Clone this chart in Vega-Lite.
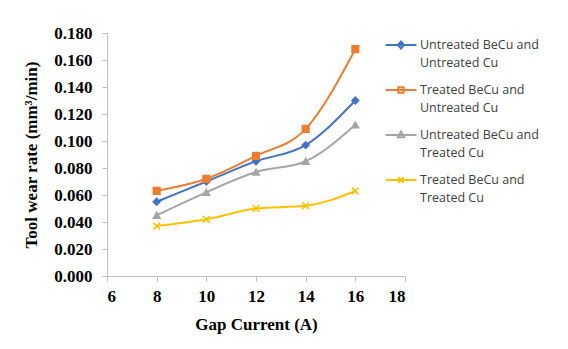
{
  "$schema": "https://vega.github.io/schema/vega-lite/v6.json",
  "width": 298,
  "height": 243,
  "autosize": {"type": "none"},
  "padding": {"left": 107, "top": 33, "right": 163, "bottom": 73},
  "background": "white",
  "data": {"values": [
    {"x": 8, "y": 0.055, "s": "Untreated BeCu and|Untreated Cu"},
    {"x": 10, "y": 0.070, "s": "Untreated BeCu and|Untreated Cu"},
    {"x": 12, "y": 0.085, "s": "Untreated BeCu and|Untreated Cu"},
    {"x": 14, "y": 0.097, "s": "Untreated BeCu and|Untreated Cu"},
    {"x": 16, "y": 0.130, "s": "Untreated BeCu and|Untreated Cu"},
    {"x": 8, "y": 0.063, "s": "Treated BeCu and|Untreated Cu"},
    {"x": 10, "y": 0.072, "s": "Treated BeCu and|Untreated Cu"},
    {"x": 12, "y": 0.089, "s": "Treated BeCu and|Untreated Cu"},
    {"x": 14, "y": 0.109, "s": "Treated BeCu and|Untreated Cu"},
    {"x": 16, "y": 0.168, "s": "Treated BeCu and|Untreated Cu"},
    {"x": 8, "y": 0.045, "s": "Untreated BeCu and|Treated Cu"},
    {"x": 10, "y": 0.062, "s": "Untreated BeCu and|Treated Cu"},
    {"x": 12, "y": 0.077, "s": "Untreated BeCu and|Treated Cu"},
    {"x": 14, "y": 0.085, "s": "Untreated BeCu and|Treated Cu"},
    {"x": 16, "y": 0.112, "s": "Untreated BeCu and|Treated Cu"},
    {"x": 8, "y": 0.037, "s": "Treated BeCu and|Treated Cu"},
    {"x": 10, "y": 0.042, "s": "Treated BeCu and|Treated Cu"},
    {"x": 12, "y": 0.050, "s": "Treated BeCu and|Treated Cu"},
    {"x": 14, "y": 0.052, "s": "Treated BeCu and|Treated Cu"},
    {"x": 16, "y": 0.063, "s": "Treated BeCu and|Treated Cu"}
  ]},
  "encoding": {
    "x": {"field": "x", "type": "quantitative",
      "scale": {"domain": [6, 18], "nice": false},
      "axis": {"title": "Gap Current (A)", "values": [6, 8, 10, 12, 14, 16, 18], "grid": false,
        "domainColor": "#BFBFBF", "tickColor": "#BFBFBF", "tickSize": 5,
        "labelFont": "Liberation Serif", "labelFontSize": 17, "labelFontWeight": "bold", "labelColor": "#000000", "labelPadding": 7,
        "titleFont": "Liberation Serif", "titleFontSize": 17, "titleFontWeight": "bold", "titleColor": "#000000", "titlePadding": 12}},
    "y": {"field": "y", "type": "quantitative",
      "scale": {"domain": [0, 0.18], "nice": false},
      "axis": {"title": "Tool wear rate (mm³/min)", "values": [0, 0.02, 0.04, 0.06, 0.08, 0.1, 0.12, 0.14, 0.16, 0.18], "format": ".3f", "grid": false,
        "domainColor": "#BFBFBF", "tickColor": "#BFBFBF", "tickSize": 5,
        "labelFont": "Liberation Serif", "labelFontSize": 17, "labelFontWeight": "bold", "labelColor": "#000000", "labelPadding": 10,
        "titleFont": "Liberation Serif", "titleFontSize": 17, "titleFontWeight": "bold", "titleColor": "#000000", "titlePadding": 13}}
  },
  "layer": [
    {"mark": {"type": "line", "interpolate": "monotone", "strokeWidth": 2},
      "encoding": {"color": {"field": "s", "type": "nominal",
        "scale": {"domain": ["Untreated BeCu and|Untreated Cu", "Treated BeCu and|Untreated Cu", "Untreated BeCu and|Treated Cu", "Treated BeCu and|Treated Cu"],
          "range": ["#4472C4", "#ED7D31", "#A5A5A5", "#FFC000"]}, "legend": null}}},
    {"mark": {"type": "point", "filled": false, "size": 45, "opacity": 1, "strokeWidth": 1.5},
      "encoding": {
        "stroke": {"field": "s", "type": "nominal",
          "scale": {"domain": ["Untreated BeCu and|Untreated Cu", "Treated BeCu and|Untreated Cu", "Untreated BeCu and|Treated Cu", "Treated BeCu and|Treated Cu"],
            "range": ["#4472C4", "#ED7D31", "#A5A5A5", "#FFC000"]}, "legend": null},
        "fill": {"field": "s", "type": "nominal",
          "scale": {"domain": ["Untreated BeCu and|Untreated Cu", "Treated BeCu and|Untreated Cu", "Untreated BeCu and|Treated Cu", "Treated BeCu and|Treated Cu"],
            "range": ["#4472C4", "#ED7D31", "#A5A5A5", "#FFC000"]}, "legend": null},
        "shape": {"field": "s", "type": "nominal",
          "scale": {"domain": ["Untreated BeCu and|Untreated Cu", "Treated BeCu and|Untreated Cu", "Untreated BeCu and|Treated Cu", "Treated BeCu and|Treated Cu"],
            "range": ["diamond", "square", "triangle-up", "M-1,-1L1,1M-1,1L1,-1"]},
          "legend": null}}},
    {"mark": {"type": "point", "filled": false, "opacity": 0, "strokeWidth": 2},
      "encoding": {
        "color": {"field": "s", "type": "nominal",
          "scale": {"domain": ["Untreated BeCu and|Untreated Cu", "Treated BeCu and|Untreated Cu", "Untreated BeCu and|Treated Cu", "Treated BeCu and|Treated Cu"],
            "range": ["#4472C4", "#ED7D31", "#A5A5A5", "#FFC000"]},
          "legend": {"title": null, "orient": "none", "legendX": 285, "legendY": 3,
            "labelExpr": "split(datum.label, '|')", "labelFont": "Open Sans", "labelFontSize": 12.5, "labelColor": "#404040",
            "rowPadding": 11, "symbolSize": 240, "symbolStrokeWidth": 2, "symbolOpacity": 1, "labelOffset": 10, "labelBaseline": "middle"}},
        "shape": {"field": "s", "type": "nominal",
          "scale": {"domain": ["Untreated BeCu and|Untreated Cu", "Treated BeCu and|Untreated Cu", "Untreated BeCu and|Treated Cu", "Treated BeCu and|Treated Cu"],
            "range": ["M-2,0L2,0M0,-0.45L0.4,0L0,0.45L-0.4,0Z", "M-2,0L2,0M-0.35,-0.35L0.35,-0.35L0.35,0.35L-0.35,0.35Z", "M-2,0L2,0M0,-0.45L0.42,0.3L-0.42,0.3Z", "M-2,0L2,0M-0.35,-0.35L0.35,0.35M-0.35,0.35L0.35,-0.35"]}}}}
  ],
  "resolve": {"scale": {"color": "independent", "shape": "independent"}, "legend": {"color": "independent", "shape": "independent"}},
  "config": {"view": {"stroke": null}, "style": {"guide-label": {"lineHeight": 18}}}
}
